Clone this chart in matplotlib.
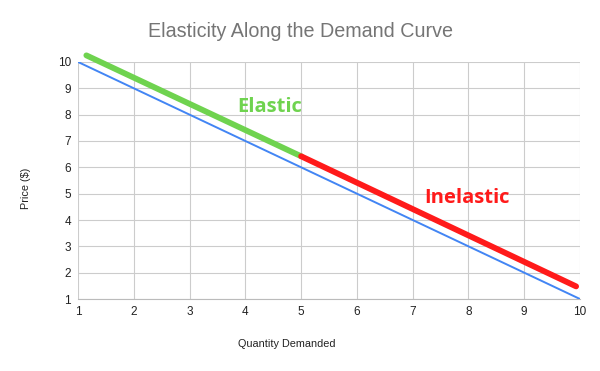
import matplotlib

matplotlib.use("Agg")
import matplotlib.pyplot as plt

# demand curve and the shifted elastic / inelastic segments
demand_q = [1, 10]
demand_p = [10, 1]
elastic_q = [1.15, 5.0]
elastic_p = [10.25, 6.42]
inelastic_q = [5.0, 9.93]
inelastic_p = [6.42, 1.48]
ticks = list(range(1, 11))

plt.rcParams["font.family"] = ["Liberation Sans", "DejaVu Sans"]

fig = plt.figure(figsize=(6, 3.71), dpi=100)
ax = fig.add_axes([0.13, 0.194, 0.8367, 0.639])

ax.plot(demand_q, demand_p, color="#4285f4", lw=1.4, zorder=3)
ax.plot(elastic_q, elastic_p, color="#6fd34f", lw=4.2, solid_capstyle="round", zorder=4, clip_on=False)
ax.plot(inelastic_q, inelastic_p, color="#ff1a1a", lw=4.2, solid_capstyle="round", zorder=4, clip_on=False)

ax.text(4.44, 8.29, "Elastic", color="#6fd34f", fontsize=14.5, fontweight="bold",
        family="Open Sans", ha="center", va="center")
ax.text(7.97, 4.82, "Inelastic", color="#ff1a1a", fontsize=14.5, fontweight="bold",
        family="Open Sans", ha="center", va="center")

ax.set_xlim(1, 10)
ax.set_ylim(1, 10)
ax.set_xticks(ticks)
ax.set_yticks(ticks)
ax.tick_params(length=0, labelsize=8.5, colors="#222222", pad=5)
ax.grid(True, color="#cccccc", lw=0.8)
ax.set_axisbelow(True)
for side in ["top", "right", "left"]:
    ax.spines[side].set_visible(False)
ax.spines["bottom"].set_color("#bbbbbb")
ax.spines["bottom"].set_linewidth(0.8)

fig.text(0.5, 0.914, "Elasticity Along the Demand Curve", ha="center", va="center",
         fontsize=14.2, color="#757575")
fig.text(0.478, 0.073, "Quantity Demanded", ha="center", va="center", fontsize=7.8, color="#222222")
fig.text(0.044, 0.493, "Price ($)", ha="center", va="center", rotation=90, fontsize=7.8, color="#222222")

fig.savefig("out.png", dpi=100)
